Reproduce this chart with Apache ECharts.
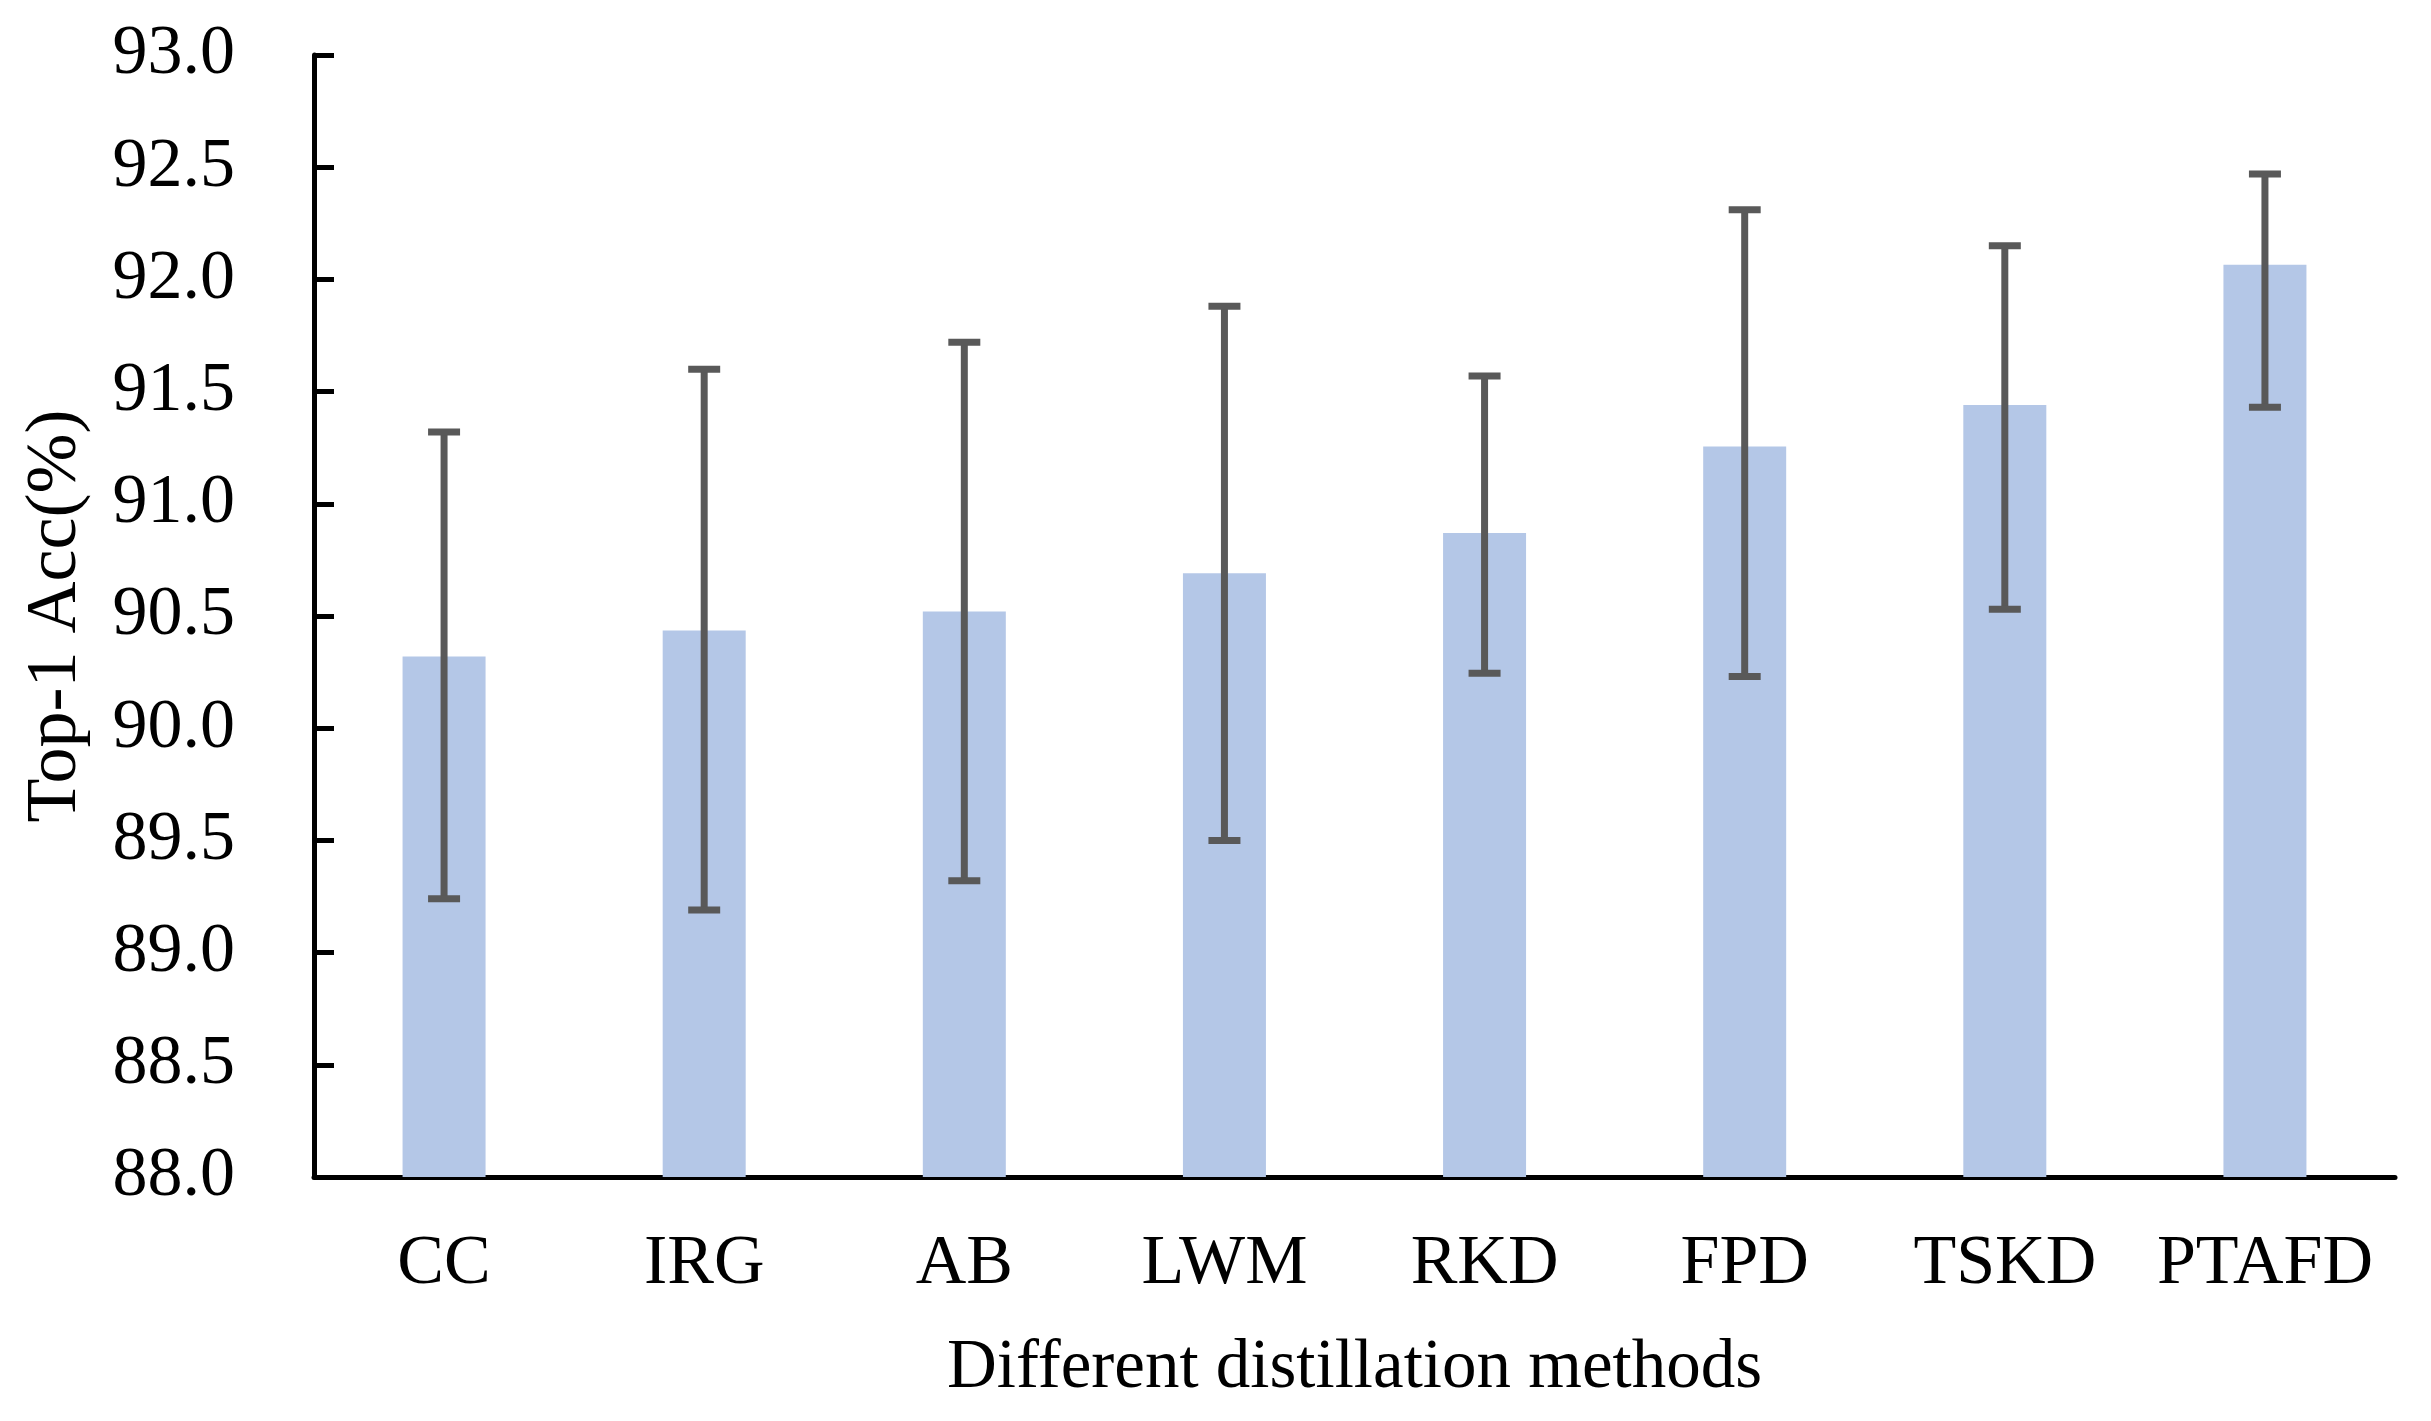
<!DOCTYPE html>
<html>
<head>
<meta charset="utf-8">
<script src="https://cdn.jsdelivr.net/npm/echarts@6/dist/echarts.min.js"></script>
<style>
html,body{margin:0;padding:0;background:#fff;}
#main{width:2431px;height:1421px;}
</style>
</head>
<body>
<div id="main"></div>
<script>
var categories = ['CC', 'IRG', 'AB', 'LWM', 'RKD', 'FPD', 'TSKD', 'PTAFD'];
var meanAcc = [90.32, 90.435, 90.52, 90.69, 90.87, 91.255, 91.44, 92.065];
var errHigh = [91.32, 91.60, 91.72, 91.88, 91.57, 92.31, 92.15, 92.47];
var errLow  = [89.24, 89.19, 89.32, 89.50, 90.245, 90.23, 90.53, 91.43];

var FONT = "'Liberation Serif', 'Times New Roman', serif";
var errData = categories.map(function (c, i) { return [i, errLow[i], errHigh[i]]; });

var chart = echarts.init(document.getElementById('main'), null, {renderer: 'canvas'});
chart.setOption({
  animation: false,
  backgroundColor: '#ffffff',
  grid: {left: 314, right: 36, top: 55, bottom: 244, containLabel: false},
  xAxis: {
    type: 'category',
    data: categories,
    boundaryGap: true,
    axisLine: {show: true, lineStyle: {color: '#000', width: 5}},
    axisTick: {show: false},
    axisLabel: {color: '#000', fontFamily: FONT, fontSize: 70, margin: 53, interval: 0, hideOverlap: false},
    name: 'Different distillation methods',
    nameLocation: 'middle',
    nameGap: 157,
    nameTextStyle: {color: '#000', fontFamily: FONT, fontSize: 69},
    splitLine: {show: false}
  },
  yAxis: {
    type: 'value',
    min: 88, max: 93, interval: 0.5,
    axisLine: {show: true, lineStyle: {color: '#000', width: 5}},
    axisTick: {show: true, inside: true, length: 20, lineStyle: {color: '#000', width: 5}},
    axisLabel: {color: '#000', fontFamily: FONT, fontSize: 70, margin: 79,
      formatter: function (v) { return v.toFixed(1); }},
    splitLine: {show: false},
    name: 'Top-1 Acc(%)',
    nameLocation: 'middle',
    nameRotate: 90,
    nameGap: 222,
    nameTextStyle: {color: '#000', fontFamily: FONT, fontSize: 72}
  },
  series: [
    {
      type: 'bar',
      data: meanAcc,
      barWidth: 83,
      itemStyle: {color: '#B4C7E7'},
      z: 2
    },
    {
      type: 'custom',
      data: errData,
      z: 3,
      renderItem: function (params, api) {
        var x = api.value(0);
        var lo = api.coord([x, api.value(1)]);
        var hi = api.coord([x, api.value(2)]);
        var hw = 16;
        var st = {stroke: '#595959', lineWidth: 7};
        return {
          type: 'group',
          children: [
            {type: 'line', shape: {x1: hi[0], y1: hi[1], x2: lo[0], y2: lo[1]}, style: st},
            {type: 'line', shape: {x1: hi[0] - hw, y1: hi[1], x2: hi[0] + hw, y2: hi[1]}, style: st},
            {type: 'line', shape: {x1: lo[0] - hw, y1: lo[1], x2: lo[0] + hw, y2: lo[1]}, style: st}
          ]
        };
      }
    }
  ]
});
</script>
</body>
</html>
